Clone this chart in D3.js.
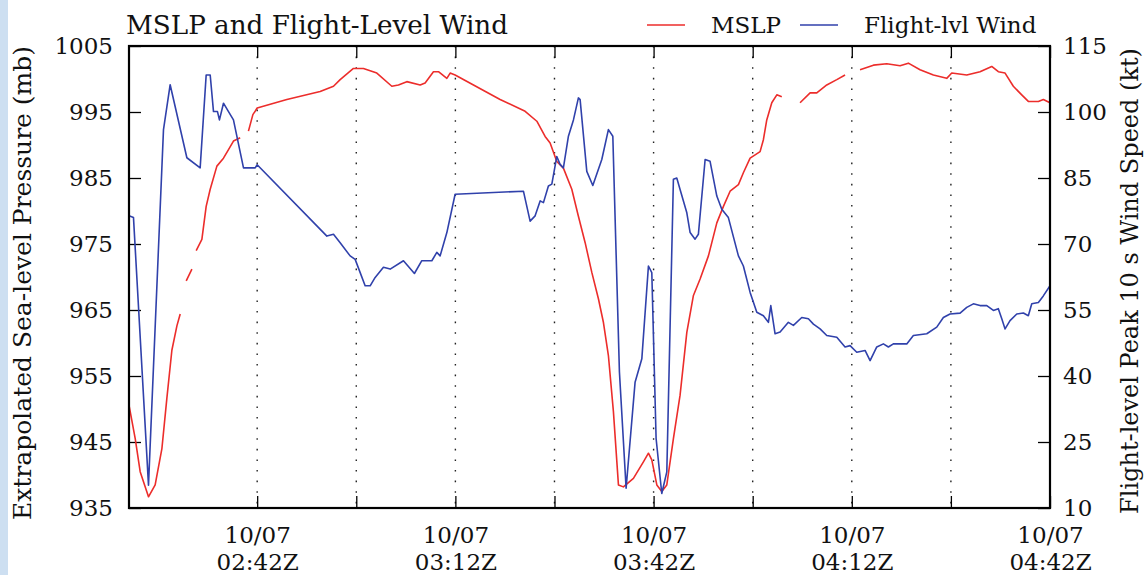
<!DOCTYPE html>
<html>
<head>
<meta charset="utf-8">
<script src="https://cdn.jsdelivr.net/npm/d3@7"></script>
<style>
  body { margin: 0; background: #fff; }
  svg { display: block; }
  text { font-family: "DejaVu Serif", serif; fill: #111; }
</style>
</head>
<body>
<div id="chart"></div>
<script>
// minutes after 02:00Z on 10/07
var windMin = [22.6, 23.28, 25.55, 27.82, 28.83, 31.36, 33.37, 34.28, 34.89, 35.39, 35.99, 36.29, 36.9, 37.66, 38.41, 39.93, 41.7, 42.0,
  52.55, 53.55, 54.56, 56.07, 56.83, 57.59, 58.34, 59.1, 59.86, 61.11, 62.13, 64.14, 65.8, 66.92, 68.44, 69.19, 69.69, 70.71, 71.96,
  82.3, 83.31, 84.07, 84.83, 85.33, 86.08, 86.6, 87.35, 87.85, 88.35, 89.11, 89.87, 90.62, 90.88, 91.89, 92.8, 94.16, 95.16, 95.83,
  96.83, 97.84, 99.2, 100.22, 101.22, 101.73, 102.38, 103.24, 104.0, 105.0, 105.51, 106.01, 107.03, 107.53, 108.28, 108.78, 109.8,
  110.55, 111.57, 112.32, 113.32, 114.84, 115.59, 116.61, 117.62, 118.62, 119.38, 119.74, 120.39, 121.15, 122.4, 123.16, 124.43,
  125.43, 126.19, 127.2, 128.21, 129.73, 130.98, 131.74, 132.75, 134.01, 134.77, 135.78, 136.78, 137.54, 138.29, 140.32, 141.32,
  143.35, 144.86, 145.86, 146.87, 148.39, 149.4, 150.4, 151.41, 152.43, 153.43, 154.18, 154.7, 155.2, 155.95, 156.97, 157.97,
  158.72, 159.24, 160.24, 160.99, 162.0];
var windKt = [76.4, 76.0, 15.2, 96.0, 106.2, 89.6, 87.3, 108.4, 108.4, 100.1, 100.1, 98.2, 102.0, 100.1, 98.2, 87.3, 87.3, 88.0,
  71.8, 72.2, 70.3, 67.3, 66.5, 63.5, 60.5, 60.5, 62.4, 64.7, 64.3, 66.2, 63.3, 66.2, 66.2, 68.1, 67.3, 72.6, 81.3,
  82.0, 75.2, 76.4, 79.8, 79.4, 83.2, 83.6, 89.9, 88.1, 87.3, 94.5, 98.2, 103.2, 102.8, 86.5, 83.3, 89.2, 96.0, 94.5,
  40.9, 14.5, 38.6, 43.9, 65.0, 63.5, 25.8, 13.3, 18.2, 84.7, 85.0, 82.4, 77.1, 72.6, 71.1, 72.2, 89.2,
  88.8, 80.9, 77.9, 76.0, 67.3, 65.0, 59.0, 54.5, 53.7, 52.2, 56.0, 49.6, 50.0, 52.2, 51.5, 53.3,
  53.0, 51.8, 50.7, 49.2, 48.8, 46.6, 46.9, 45.4, 45.8, 43.5, 46.6, 47.3, 46.6, 47.3, 47.3, 49.2,
  49.6, 51.1, 53.3, 54.1, 54.3, 55.6, 56.4, 56.0, 56.0, 54.9, 55.3, 53.0, 50.7, 52.6, 54.1, 54.3,
  53.7, 56.4, 56.7, 58.2, 60.5];

// null = gap in the pressure record
var mslpMin = [22.6, 23.54, 24.29, 25.55, 26.56, 27.58, 28.33, 29.09, 29.85, 30.35, 30.8, 31.26, 32.12, 32.45, 32.77, 33.63,
  34.28, 34.89, 35.9, 36.9, 37.66, 38.41, 39.43, 40.0, 40.68, 41.35, 42.0, 46.49, 51.53, 53.55, 54.56, 56.57, 58.09, 60.11,
  62.38, 63.38, 64.65, 66.67, 67.42, 68.68, 69.44, 70.71, 71.21, 71.96, 78.77, 82.56, 84.33, 85.58, 86.34, 87.35, 88.35,
  89.62, 90.62, 91.64, 92.65, 93.65, 94.41, 95.16, 95.92, 96.68, 97.43, 98.95, 100.46, 101.22, 101.73, 102.49, 103.24,
  104.0, 105.0, 106.01, 107.03, 108.03, 109.04, 110.3, 111.57, 112.57, 113.58, 114.84, 115.59, 116.61, 118.12, 118.62,
  119.13, 119.89, 120.65, 121.4, 122.8, 124.17, 125.69, 126.7, 128.21, 129.73, 130.98, 132.1, 133.25, 135.27, 137.29,
  139.31, 140.56, 142.33, 144.35, 146.37, 147.13, 149.4, 151.41, 153.18, 154.18, 155.2, 156.45, 157.72, 158.72, 160.24,
  160.99, 162.0];
var mslpMb = [950.6, 945.5, 940.5, 936.7, 938.5, 944.0, 951.6, 958.9, 962.6, 964.4, null, 969.4, 971.2, null, 974.0, 975.7,
  980.7, 983.3, 986.8, 988.0, 989.3, 990.6, 991.1, null, 992.1, 994.6, 995.6, 996.9, 998.1, 998.9, 999.9, 1001.6, 1001.6, 1000.9,
  998.9, 999.1, 999.6, 999.1, 999.4, 1001.1, 1001.1, 1000.1, 1000.9, 1000.6, 996.9, 995.1, 993.6, 991.3, 990.3, 987.5, 986.5,
  983.3, 979.2, 975.2, 970.7, 966.7, 963.1, 958.1, 949.6, 938.5, 938.2, 939.5, 942.0, 943.3, 942.3, 938.5, 937.5,
  938.5, 945.5, 952.1, 961.6, 967.2, 969.7, 973.2, 978.2, 980.7, 983.0, 984.0, 985.8, 988.0, 989.0, 990.8,
  993.8, 996.4, 997.6, 997.3, null, 996.4, 997.9, 997.9, 999.1, 999.9, 1000.6, null, 1001.4, 1002.1, 1002.3,
  1002.0, 1002.4, 1001.4, 1000.6, 1000.1, 1000.9, 1000.6, 1001.1, 1001.9, 1001.1, 1000.9, 998.9, 997.6, 996.6, 996.6,
  996.9, 996.4];

var mslpTicks = [935, 945, 955, 965, 975, 985, 995, 1005];
var windTicks = [10, 25, 40, 55, 70, 85, 100, 115];
var timeTickMin = [42, 57, 72, 87, 102, 117, 132, 147, 162]; // every 15 min, labelled every 30

var W = 1146, H = 575;
var margin = {top: 46, right: 96, bottom: 67, left: 129};
var iw = W - margin.left - margin.right, ih = H - margin.top - margin.bottom;

var base = Date.UTC(2016, 9, 7, 2, 0, 0);
var toDate = function(m) { return new Date(base + m * 60000); };

var svg = d3.select('#chart').append('svg')
  .attr('width', W)
  .attr('height', H);

svg.append('rect').attr('x', 0).attr('y', 0).attr('width', 8).attr('height', H).attr('fill', '#cddff1');

var g = svg.append('g').attr('transform', 'translate(' + margin.left + ',' + margin.top + ')');

var x = d3.scaleUtc().domain([toDate(22.6), toDate(162)]).range([0, iw]);
var yL = d3.scaleLinear().domain([935, 1005]).range([ih, 0]);
var yR = d3.scaleLinear().domain([10, 115]).range([ih, 0]);

var tickDates = timeTickMin.map(toDate);

// dotted grid
g.selectAll('.grid').data(tickDates).enter().append('line')
  .attr('x1', function(d) { return x(d); })
  .attr('x2', function(d) { return x(d); })
  .attr('y1', 0).attr('y2', ih)
  .attr('stroke', '#222').attr('stroke-width', 1.4)
  .attr('stroke-dasharray', '1.6,9');

var fmtDay = d3.utcFormat('%m/%d'), fmtHr = d3.utcFormat('%H:%MZ');

var xAxis = g.append('g').attr('transform', 'translate(0,' + ih + ')')
  .call(d3.axisBottom(x).tickValues(tickDates).tickSizeInner(-12).tickSizeOuter(0).tickFormat(''));
xAxis.selectAll('.tick').each(function(d, i) {
  if (i % 2 !== 0) return;
  var t = d3.select(this).select('text').text(null).attr('font-size', 23).attr('dy', null).attr('y', null);
  t.append('tspan').attr('x', 0).attr('y', 35).text(fmtDay(d));
  t.append('tspan').attr('x', 0).attr('y', 62).text(fmtHr(d));
});
g.append('g')
  .call(d3.axisTop(x).tickValues(tickDates).tickSizeInner(-12).tickSizeOuter(0).tickFormat(''));

g.append('g')
  .call(d3.axisLeft(yL).tickValues(mslpTicks).tickFormat(d3.format('d')).tickSizeInner(-12).tickSizeOuter(0).tickPadding(16))
  .selectAll('text').attr('font-size', 23);
g.append('g').attr('transform', 'translate(' + iw + ',0)')
  .call(d3.axisRight(yR).tickValues(windTicks).tickFormat(d3.format('d')).tickSizeInner(-12).tickSizeOuter(0).tickPadding(13))
  .selectAll('text').attr('font-size', 23);

g.selectAll('.domain').remove();
g.selectAll('.tick line').attr('stroke', '#000').attr('stroke-width', 1.3);
g.selectAll('.tick text').attr('fill', '#111').attr('font-family', '"DejaVu Serif", serif');

var mslpData = mslpMin.map(function(m, i) { return {t: toDate(m), v: mslpMb[i]}; });
var windData = windMin.map(function(m, i) { return {t: toDate(m), v: windKt[i]}; });

g.append('path').datum(mslpData)
  .attr('fill', 'none').attr('stroke', '#ec2d2b').attr('stroke-width', 1.6)
  .attr('stroke-linejoin', 'round')
  .attr('d', d3.line().defined(function(d) { return d.v !== null; })
    .x(function(d) { return x(d.t); }).y(function(d) { return yL(d.v); }));

g.append('path').datum(windData)
  .attr('fill', 'none').attr('stroke', '#3041ab').attr('stroke-width', 1.6)
  .attr('stroke-linejoin', 'round')
  .attr('d', d3.line().x(function(d) { return x(d.t); }).y(function(d) { return yR(d.v); }));

g.append('rect').attr('width', iw).attr('height', ih)
  .attr('fill', 'none').attr('stroke', '#000').attr('stroke-width', 2.2);

// titles and labels
svg.append('text').attr('x', margin.left - 3).attr('y', 34).attr('font-size', 26.2)
  .text('MSLP and Flight-Level Wind');

svg.append('text').attr('transform', 'translate(31,' + (margin.top + ih / 2 + 6) + ') rotate(-90)')
  .attr('text-anchor', 'middle').attr('font-size', 25)
  .text('Extrapolated Sea-level Pressure (mb)');
svg.append('text').attr('transform', 'translate(1138,' + (margin.top + ih / 2 + 4) + ') rotate(-90)')
  .attr('text-anchor', 'middle').attr('font-size', 24)
  .text('Flight-level Peak 10 s Wind Speed (kt)');

// legend
var legend = [{name: 'MSLP', color: '#ec2d2b', x: 647}, {name: 'Flight-lvl Wind', color: '#3041ab', x: 800}];
var lg = svg.selectAll('.leg').data(legend).enter().append('g')
  .attr('transform', function(d) { return 'translate(' + d.x + ',25)'; });
lg.append('line').attr('x1', 0).attr('x2', 38).attr('y1', 0).attr('y2', 0)
  .attr('stroke', function(d) { return d.color; }).attr('stroke-width', 1.6);
lg.append('text').attr('x', 64).attr('y', 8).attr('font-size', 23).text(function(d) { return d.name; });
</script>
</body>
</html>
